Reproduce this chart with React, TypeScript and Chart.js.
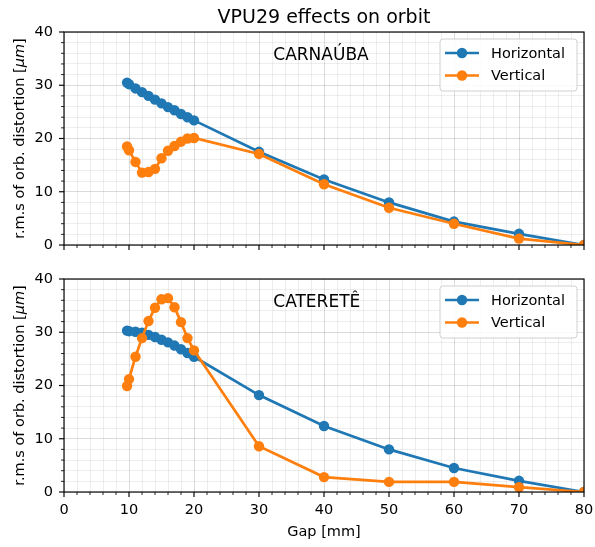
import React, { useEffect, useRef } from 'react';
import { Chart, registerables } from 'chart.js';

Chart.register(...registerables);

// ---------------- data ----------------
const gap = [9.7, 10, 11, 12, 13, 14, 15, 16, 17, 18, 19, 20, 30, 40, 50, 60, 70, 80];

const carnaubaHorizontal = [30.5, 30.2, 29.4, 28.7, 28.0, 27.3, 26.6, 25.9, 25.3, 24.6, 24.0, 23.4, 17.5, 12.3, 8.0, 4.4, 2.1, 0];
const carnaubaVertical = [18.5, 17.8, 15.6, 13.6, 13.7, 14.3, 16.3, 17.7, 18.6, 19.4, 20.0, 20.1, 17.1, 11.4, 7.0, 4.0, 1.2, 0];

const cateretHorizontal = [30.3, 30.2, 30.1, 29.9, 29.5, 29.1, 28.6, 28.1, 27.5, 26.8, 26.1, 25.4, 18.2, 12.4, 8.0, 4.5, 2.1, 0];
const cateretVertical = [19.9, 21.2, 25.4, 28.9, 32.1, 34.6, 36.2, 36.4, 34.7, 31.9, 28.9, 26.6, 8.6, 2.8, 1.9, 1.9, 0.9, 0];

const seriesNames = ['Horizontal', 'Vertical'];
const seriesColors = ['#1f77b4', '#ff7f0e'];
const panelNames = ['CARNAÚBA', 'CATERETÊ'];
const titleText = 'VPU29 effects on orbit';
const xTitleText = 'Gap [mm]';
const yTitleParts = ['r.m.s of orb. distortion [', 'μm', ']'];

const xRange = [0, 80];
const yRange = [0, 40];
const minorStep = 2;
const majorStep = 10;
const annotationX = 32.2;

const FONT = "'DejaVu Sans', 'Liberation Sans', sans-serif";

type PanelProps = {
  canvasHeight: number;
  padTop: number;
  padBottom: number;
  xAxisHeight: number;
  showXLabels: boolean;
  showTitle: boolean;
  showXTitle: boolean;
  name: string;
  horizontal: number[];
  vertical: number[];
};

function Panel(props: PanelProps) {
  const ref = useRef<HTMLCanvasElement | null>(null);

  useEffect(() => {
    const canvas = ref.current;
    if (!canvas) return;

    const toPoints = (vals: number[]) => gap.map((g, i) => ({ x: g, y: vals[i] }));
    const isMajor = (v: number) => Math.abs(v % majorStep) < 1e-9;
    const zeroPad = (s: any) => {
      s.paddingTop = 0;
      s.paddingBottom = 0;
      s.paddingLeft = 0;
      s.paddingRight = 0;
    };

    const decor = {
      id: 'decor',
      afterDraw(chart: any) {
        const ctx = chart.ctx as CanvasRenderingContext2D;
        const area = chart.chartArea;
        const xs = chart.scales.x;
        const ys = chart.scales.y;
        ctx.save();

        // frame
        ctx.strokeStyle = '#000';
        ctx.lineWidth = 1.15;
        ctx.strokeRect(area.left, area.top, area.right - area.left, area.bottom - area.top);

        // tick marks (outward)
        for (const t of xs.ticks) {
          const px = xs.getPixelForValue(t.value);
          const major = isMajor(t.value);
          ctx.lineWidth = major ? 1.15 : 0.85;
          ctx.beginPath();
          ctx.moveTo(px, area.bottom);
          ctx.lineTo(px, area.bottom + (major ? 5 : 3));
          ctx.stroke();
        }
        for (const t of ys.ticks) {
          const py = ys.getPixelForValue(t.value);
          const major = isMajor(t.value);
          ctx.lineWidth = major ? 1.15 : 0.85;
          ctx.beginPath();
          ctx.moveTo(area.left, py);
          ctx.lineTo(area.left - (major ? 5 : 3), py);
          ctx.stroke();
        }

        // panel annotation
        ctx.fillStyle = '#000';
        ctx.font = `17px ${FONT}`;
        ctx.textAlign = 'left';
        ctx.textBaseline = 'alphabetic';
        ctx.fillText(props.name, xs.getPixelForValue(annotationX), area.top + 28);

        // legend
        const bw = 137, bh = 52;
        const bx = area.right - 7 - bw;
        const by = area.top + 7;
        ctx.beginPath();
        (ctx as any).roundRect(bx, by, bw, bh, 3);
        ctx.fillStyle = 'rgba(255,255,255,0.85)';
        ctx.fill();
        ctx.strokeStyle = '#d0d0d0';
        ctx.lineWidth = 1;
        ctx.stroke();
        ctx.font = `14.5px ${FONT}`;
        ctx.textBaseline = 'middle';
        seriesNames.forEach((nm, i) => {
          const cy = by + 14 + i * 22.5;
          ctx.strokeStyle = seriesColors[i];
          ctx.lineWidth = 2.7;
          ctx.beginPath();
          ctx.moveTo(bx + 5, cy);
          ctx.lineTo(bx + 39, cy);
          ctx.stroke();
          ctx.fillStyle = seriesColors[i];
          ctx.beginPath();
          ctx.arc(bx + 22, cy, 5.2, 0, Math.PI * 2);
          ctx.fill();
          ctx.fillStyle = '#000';
          ctx.fillText(nm, bx + 51, cy + 1);
        });

        // y-axis title (rotated, mixed italic)
        ctx.save();
        const cyMid = (area.top + area.bottom) / 2;
        ctx.translate(23.5, cyMid);
        ctx.rotate(-Math.PI / 2);
        ctx.textBaseline = 'alphabetic';
        ctx.textAlign = 'left';
        const fonts = [`14.5px ${FONT}`, `italic 14.5px ${FONT}`, `14.5px ${FONT}`];
        let total = 0;
        const widths = yTitleParts.map((p, i) => {
          ctx.font = fonts[i];
          const w = ctx.measureText(p).width;
          total += w;
          return w;
        });
        let cx = -total / 2;
        ctx.fillStyle = '#000';
        yTitleParts.forEach((p, i) => {
          ctx.font = fonts[i];
          ctx.fillText(p, cx, 0);
          cx += widths[i];
        });
        ctx.restore();

        // title
        if (props.showTitle) {
          ctx.font = `19px ${FONT}`;
          ctx.textAlign = 'center';
          ctx.textBaseline = 'alphabetic';
          ctx.fillStyle = '#000';
          ctx.fillText(titleText, (area.left + area.right) / 2, 23);
        }
        // x title
        if (props.showXTitle) {
          ctx.font = `14.5px ${FONT}`;
          ctx.textAlign = 'center';
          ctx.textBaseline = 'alphabetic';
          ctx.fillStyle = '#000';
          ctx.fillText(xTitleText, (area.left + area.right) / 2, area.bottom + 44);
        }
        ctx.restore();
      },
    };

    const gridColor = (c: any) =>
      c.tick && isMajor(c.tick.value) ? 'rgba(0,0,0,0.14)' : 'rgba(0,0,0,0.065)';

    const mkDataset = (idx: number, vals: number[], order: number) => ({
      label: seriesNames[idx],
      data: toPoints(vals),
      borderColor: seriesColors[idx],
      backgroundColor: seriesColors[idx],
      pointBackgroundColor: seriesColors[idx],
      pointBorderColor: seriesColors[idx],
      borderWidth: 2.7,
      pointRadius: 5.2,
      pointBorderWidth: 0,
      pointHoverRadius: 5.2,
      tension: 0,
      order,
      clip: 0,
    });

    const chart = new Chart(canvas, {
      type: 'line',
      data: {
        datasets: [mkDataset(0, props.horizontal, 1), mkDataset(1, props.vertical, 0)] as any,
      },
      options: {
        responsive: false,
        animation: false,
        events: [],
        layout: { padding: { left: 0, right: 11, top: props.padTop, bottom: props.padBottom } },
        plugins: { legend: { display: false }, title: { display: false }, tooltip: { enabled: false } },
        scales: {
          x: {
            type: 'linear',
            min: xRange[0],
            max: xRange[1],
            afterFit: (s: any) => {
              s.height = props.xAxisHeight;
              zeroPad(s);
            },
            border: { display: false },
            grid: { color: gridColor, lineWidth: 1, drawTicks: false },
            ticks: {
              stepSize: minorStep,
              autoSkip: false,
              maxRotation: 0,
              padding: 10,
              color: '#000',
              font: { family: FONT, size: 14.5 },
              display: props.showXLabels,
              callback: (v: any) => (isMajor(Number(v)) ? String(v) : ''),
            },
          },
          y: {
            type: 'linear',
            min: yRange[0],
            max: yRange[1],
            afterFit: (s: any) => {
              s.width = 64;
              zeroPad(s);
            },
            border: { display: false },
            grid: { color: gridColor, lineWidth: 1, drawTicks: false },
            ticks: {
              stepSize: minorStep,
              autoSkip: false,
              padding: 11,
              color: '#000',
              font: { family: FONT, size: 14.5 },
              callback: (v: any) => (isMajor(Number(v)) ? String(v) : ''),
            },
          },
        },
      } as any,
      plugins: [decor],
    });

    return () => chart.destroy();
  }, []);

  return (
    <canvas
      ref={ref}
      width={595}
      height={props.canvasHeight}
      style={{ display: 'block', width: 595, height: props.canvasHeight }}
    />
  );
}

export default function App() {
  return (
    <div style={{ position: 'absolute', left: 0, top: 0, width: 595, height: 547, background: '#fff' }}>
      <Panel
        canvasHeight={262}
        padTop={32}
        padBottom={17}
        xAxisHeight={0}
        showXLabels={false}
        showTitle={true}
        showXTitle={false}
        name={panelNames[0]}
        horizontal={carnaubaHorizontal}
        vertical={carnaubaVertical}
      />
      <Panel
        canvasHeight={285}
        padTop={17}
        padBottom={0}
        xAxisHeight={55}
        showXLabels={true}
        showTitle={false}
        showXTitle={true}
        name={panelNames[1]}
        horizontal={cateretHorizontal}
        vertical={cateretVertical}
      />
    </div>
  );
}
